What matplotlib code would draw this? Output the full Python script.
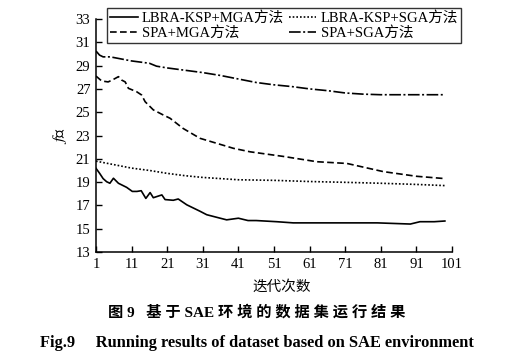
import matplotlib
matplotlib.use("Agg")
import matplotlib.pyplot as plt

plt.rcParams['font.family'] = ['Liberation Serif', 'Noto Sans CJK SC']
plt.rcParams['mathtext.fontset'] = 'stix'

# LBRA-KSP+MGA
mga_x = [1, 2, 3, 4, 4.9, 5.9, 7.3, 9.6, 11.2, 12.5, 13.7, 15, 16.2, 17.1, 19.5, 20.4,
         22.7, 24.1, 26.5, 30.2, 32.1, 35.9, 37.7, 41, 43.7, 46, 51.8, 56.4, 70, 80,
         89.3, 92, 96, 99]
mga_y = [20.18, 19.76, 19.3, 19.03, 18.9, 19.33, 18.9, 18.55, 18.2, 18.2, 18.26, 17.6,
         18.1, 17.66, 17.9, 17.5, 17.44, 17.55, 17.05, 16.5, 16.2, 15.9, 15.76, 15.9,
         15.7, 15.7, 15.6, 15.5, 15.5, 15.5, 15.4, 15.6, 15.6, 15.66]

# LBRA-KSP+SGA
sga_x = [1, 6, 11, 16, 21, 26, 31, 36, 41, 51, 61, 71, 81, 91, 99]
sga_y = [20.8, 20.5, 20.2, 20.0, 19.75, 19.55, 19.4, 19.3, 19.2, 19.15, 19.05, 18.98,
         18.9, 18.8, 18.7]

# SPA+MGA
spa_mga_x = [1, 2.6, 4.4, 5.5, 7.3, 8.2, 9.2, 10.1, 12.4, 13.8, 14.8, 17.1, 19.9, 21.8,
             25.5, 30.2, 34.9, 39.6, 44.3, 53.7, 63, 71.5, 81.7, 91, 99]
spa_mga_y = [28.1, 27.68, 27.6, 27.75, 28.05, 27.76, 27.6, 27.05, 26.76, 26.48, 25.9,
             25.2, 24.76, 24.48, 23.6, 22.76, 22.33, 21.9, 21.6, 21.2, 20.75, 20.6, 19.9,
             19.5, 19.3]

# SPA+SGA
spa_sga_x = [1, 2, 3, 5, 11, 16, 18, 21, 26, 31, 36, 41, 46, 51, 56, 61, 66, 71, 76, 81,
             91, 99]
spa_sga_y = [30.25, 29.9, 29.75, 29.75, 29.4, 29.2, 28.95, 28.8, 28.6, 28.4, 28.15,
             27.85, 27.55, 27.35, 27.2, 27.0, 26.85, 26.65, 26.55, 26.5, 26.5, 26.5]

x_ticks = list(range(1, 102, 10))
y_ticks = list(range(13, 34, 2))

fig = plt.figure(figsize=(5.15, 3.58), dpi=100)
ax = fig.add_axes([96/515, 1-252/358, (452-96)/515, (252-19)/358])

ax.plot(mga_x, mga_y, color='black', lw=1.2, ls='-', label='LBRA-KSP+MGA方法')
ax.plot(spa_mga_x, spa_mga_y, color='black', lw=1.2, ls=(0, (4, 2)), label='SPA+MGA方法')
ax.plot(sga_x, sga_y, color='black', lw=1.2, ls=(0, (1, 1.2)), label='LBRA-KSP+SGA方法')
ax.plot(spa_sga_x, spa_sga_y, color='black', lw=1.2, ls=(0, (7, 1.5, 1.2, 1.5)),
        label='SPA+SGA方法')

ax.set_xlim(1, 101)
ax.set_ylim(13, 33)
ax.set_xticks(x_ticks)
ax.set_yticks(y_ticks)
ax.tick_params(direction='in', labelsize=10.5, length=4, width=1, pad=4)
for s in ['top', 'right']:
    ax.spines[s].set_visible(False)
for s in ['left', 'bottom']:
    ax.spines[s].set_linewidth(1.1)

ax.set_ylabel(r'$f$值', fontsize=11.5, labelpad=5)
fig.text(282/515, 1-287/358, '迭代次数', fontsize=10.5, ha='center', va='center')

leg = fig.legend(loc='upper left', bbox_to_anchor=(107/515, 1-8/358), ncol=2,
                 fontsize=10.5, frameon=True, fancybox=False, edgecolor='black',
                 borderpad=0.2, labelspacing=0.1, handlelength=1.9, handletextpad=0.3,
                 columnspacing=0.3, borderaxespad=0)
leg.get_frame().set_linewidth(1.0)

fig.text(257/515, 1-312/358, '图 9   基 于 SAE 环 境 的 数 据 集 运 行 结 果', fontsize=11,
         ha='center', va='center', weight='bold')
fig.text(257/515, 1-343/358, 'Fig.9     Running results of dataset based on SAE environment',
         fontsize=11.8, ha='center', va='center', weight='bold')

fig.savefig('out.png', dpi=100)
